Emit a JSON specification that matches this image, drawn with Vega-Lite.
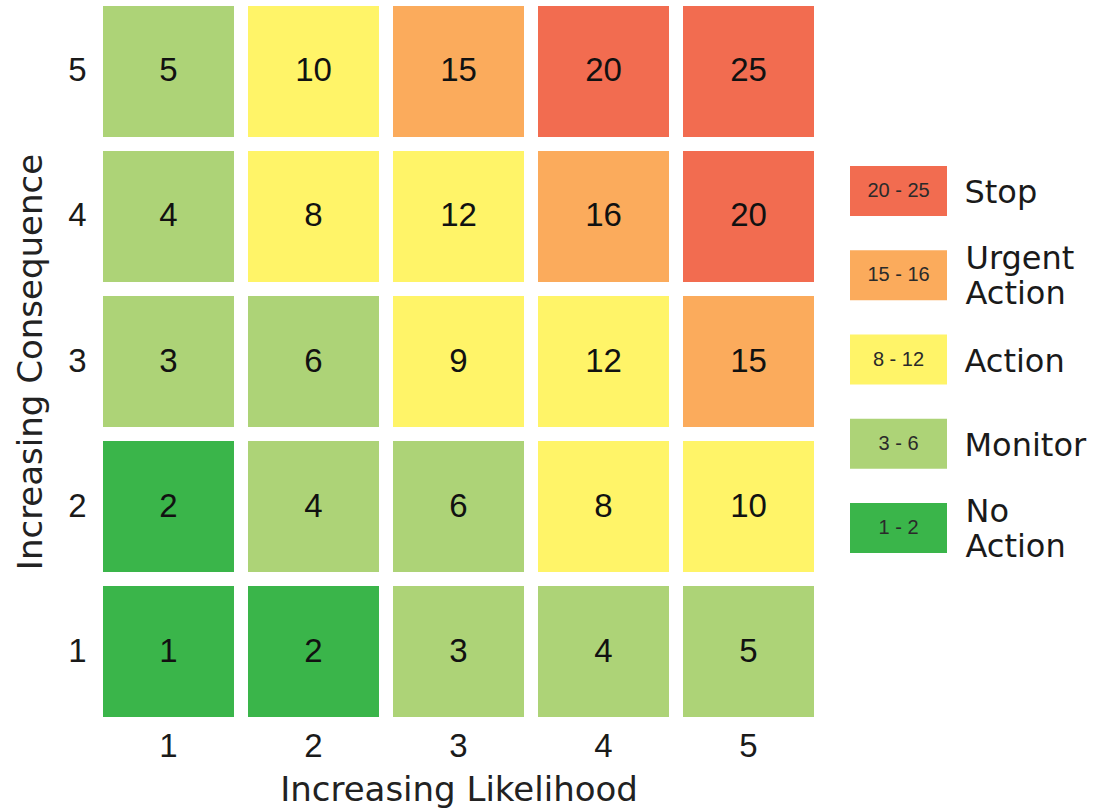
{
  "$schema": "https://vega.github.io/schema/vega-lite/v6.json",
  "background": "white",
  "padding": {"left": 14, "top": 6, "right": 5, "bottom": 5},
  "spacing": 36,
  "config": {"view": {"stroke": null}},
  "datasets": {
    "grid": [
      {"likelihood": 1, "consequence": 5, "score": 5, "level": "Monitor"},
      {"likelihood": 2, "consequence": 5, "score": 10, "level": "Action"},
      {"likelihood": 3, "consequence": 5, "score": 15, "level": "Urgent Action"},
      {"likelihood": 4, "consequence": 5, "score": 20, "level": "Stop"},
      {"likelihood": 5, "consequence": 5, "score": 25, "level": "Stop"},
      {"likelihood": 1, "consequence": 4, "score": 4, "level": "Monitor"},
      {"likelihood": 2, "consequence": 4, "score": 8, "level": "Action"},
      {"likelihood": 3, "consequence": 4, "score": 12, "level": "Action"},
      {"likelihood": 4, "consequence": 4, "score": 16, "level": "Urgent Action"},
      {"likelihood": 5, "consequence": 4, "score": 20, "level": "Stop"},
      {"likelihood": 1, "consequence": 3, "score": 3, "level": "Monitor"},
      {"likelihood": 2, "consequence": 3, "score": 6, "level": "Monitor"},
      {"likelihood": 3, "consequence": 3, "score": 9, "level": "Action"},
      {"likelihood": 4, "consequence": 3, "score": 12, "level": "Action"},
      {"likelihood": 5, "consequence": 3, "score": 15, "level": "Urgent Action"},
      {"likelihood": 1, "consequence": 2, "score": 2, "level": "No Action"},
      {"likelihood": 2, "consequence": 2, "score": 4, "level": "Monitor"},
      {"likelihood": 3, "consequence": 2, "score": 6, "level": "Monitor"},
      {"likelihood": 4, "consequence": 2, "score": 8, "level": "Action"},
      {"likelihood": 5, "consequence": 2, "score": 10, "level": "Action"},
      {"likelihood": 1, "consequence": 1, "score": 1, "level": "No Action"},
      {"likelihood": 2, "consequence": 1, "score": 2, "level": "No Action"},
      {"likelihood": 3, "consequence": 1, "score": 3, "level": "Monitor"},
      {"likelihood": 4, "consequence": 1, "score": 4, "level": "Monitor"},
      {"likelihood": 5, "consequence": 1, "score": 5, "level": "Monitor"}
    ],
    "legend": [
      {"level": "Stop", "range": "20 - 25", "label": "Stop"},
      {"level": "Urgent Action", "range": "15 - 16", "label": "Urgent\nAction"},
      {"level": "Action", "range": "8 - 12", "label": "Action"},
      {"level": "Monitor", "range": "3 - 6", "label": "Monitor"},
      {"level": "No Action", "range": "1 - 2", "label": "No\nAction"}
    ]
  },
  "hconcat": [
    {
      "width": 711,
      "height": 711,
      "data": {"name": "grid"},
      "encoding": {
        "x": {
          "field": "likelihood", "type": "ordinal",
          "scale": {"paddingInner": 0.0966, "paddingOuter": 0},
          "axis": {
            "title": "Increasing Likelihood", "labelAngle": 0, "domain": false, "ticks": false,
            "labelFont": "Liberation Sans", "labelFontSize": 33, "labelColor": "#1a1a1a", "labelPadding": 13,
            "titleFont": "DejaVu Sans", "titleFontSize": 34, "titleFontWeight": "normal", "titleColor": "#222222", "titlePadding": 10
          }
        },
        "y": {
          "field": "consequence", "type": "ordinal", "sort": "descending",
          "scale": {"paddingInner": 0.0966, "paddingOuter": 0},
          "axis": {
            "title": "Increasing Consequence", "domain": false, "ticks": false,
            "labelFont": "Liberation Sans", "labelFontSize": 33, "labelColor": "#1a1a1a", "labelPadding": 17,
            "titleFont": "DejaVu Sans", "titleFontSize": 34, "titleFontWeight": "normal", "titleColor": "#222222", "titlePadding": 19
          }
        }
      },
      "layer": [
        {
          "mark": {"type": "rect"},
          "encoding": {
            "color": {
              "field": "level", "type": "nominal", "legend": null,
              "scale": {
                "domain": ["Stop", "Urgent Action", "Action", "Monitor", "No Action"],
                "range": ["#F26C50", "#FBAB5C", "#FFF468", "#ADD377", "#3AB54A"]
              }
            }
          }
        },
        {
          "mark": {"type": "text", "font": "Liberation Sans", "fontSize": 33, "color": "#111111", "baseline": "middle"},
          "encoding": {"text": {"field": "score", "type": "quantitative"}}
        }
      ]
    },
    {
      "width": 97,
      "height": 711,
      "data": {"name": "legend"},
      "encoding": {
        "y": {
          "field": "level", "type": "nominal",
          "sort": ["Stop", "Urgent Action", "Action", "Monitor", "No Action"],
          "scale": {"paddingInner": 0.4065, "paddingOuter": 0, "range": [160, 547]},
          "axis": null
        }
      },
      "layer": [
        {
          "mark": {"type": "rect"},
          "encoding": {
            "color": {
              "field": "level", "type": "nominal", "legend": null,
              "scale": {
                "domain": ["Stop", "Urgent Action", "Action", "Monitor", "No Action"],
                "range": ["#F26C50", "#FBAB5C", "#FFF468", "#ADD377", "#3AB54A"]
              }
            }
          }
        },
        {
          "mark": {"type": "text", "font": "Liberation Sans", "fontSize": 20, "color": "#2a2a2a", "baseline": "middle", "align": "center"},
          "encoding": {"text": {"field": "range", "type": "nominal"}}
        },
        {
          "transform": [{"filter": "indexof(datum.label, '\\n') < 0"}],
          "mark": {"type": "text", "font": "DejaVu Sans", "fontSize": 32, "color": "#1a1a1a", "baseline": "middle", "align": "left", "dx": 66, "dy": 2},
          "encoding": {"text": {"field": "label", "type": "nominal"}}
        },
        {
          "transform": [{"filter": "indexof(datum.label, '\\n') >= 0"}],
          "mark": {"type": "text", "font": "DejaVu Sans", "fontSize": 32, "color": "#1a1a1a", "baseline": "middle", "align": "left", "dx": 67, "dy": -16, "lineBreak": "\n", "lineHeight": 35},
          "encoding": {"text": {"field": "label", "type": "nominal"}}
        }
      ]
    }
  ]
}
